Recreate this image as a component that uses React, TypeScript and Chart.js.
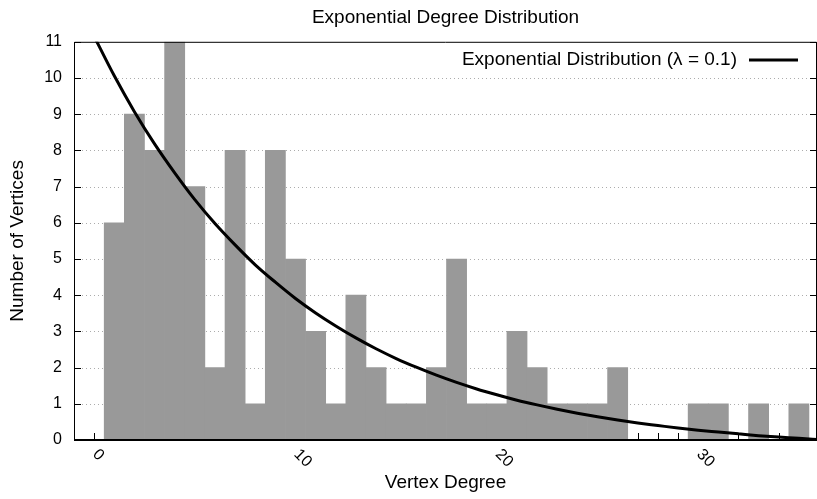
import { useEffect, useRef } from 'react';
import { Chart, registerables } from 'chart.js';

Chart.register(...registerables);

// Histogram: number of vertices per degree
const DEGREES = [
  1, 2, 3, 4, 5, 6, 7, 8, 9, 10, 11, 12, 13, 14, 15, 16, 17, 18,
  19, 20, 21, 22, 23, 24, 25, 26, 27, 28, 29, 30, 31, 32, 33, 34, 35,
];
const VERTEX_COUNTS = [
  6, 9, 8, 11, 7, 2, 8, 1, 8, 5, 3, 1, 4, 2, 1, 1, 2, 5,
  1, 1, 3, 2, 1, 1, 1, 2, 0, 0, 0, 1, 1, 0, 1, 0, 1,
];

// Fitted exponential curve, sampled at each degree
const LAMBDA = 0.1;
const CURVE_X = [
  0, 1, 2, 3, 4, 5, 6, 7, 8, 9, 10, 11, 12, 13, 14, 15, 16, 17, 18,
  19, 20, 21, 22, 23, 24, 25, 26, 27, 28, 29, 30, 31, 32, 33, 34, 35, 36,
];
const CURVE_Y = [
  11.15, 10.06, 9.07, 8.18, 7.38, 6.64, 5.98, 5.39, 4.84, 4.36, 3.91,
  3.51, 3.15, 2.82, 2.52, 2.25, 2.01, 1.79, 1.59, 1.41, 1.25, 1.1,
  0.97, 0.85, 0.74, 0.64, 0.55, 0.47, 0.4, 0.33, 0.27, 0.22, 0.17,
  0.12, 0.08, 0.05, 0.01,
];

const X_TICK_LABELS = [0, 10, 20, 30];
const Y_TICKS = [0, 1, 2, 3, 4, 5, 6, 7, 8, 9, 10, 11];

const TITLE = 'Exponential Degree Distribution';
const X_TITLE = 'Vertex Degree';
const Y_TITLE = 'Number of Vertices';
const LEGEND_LABEL = `Exponential Distribution (\u03bb = ${LAMBDA})`;

const FONT = '"Liberation Sans", Arial, Helvetica, sans-serif';
const BAR_COLOR = '#999999';
const TICK_SIZE = 16;
const TEXT_SIZE = 19;

const framePlugin = {
  id: 'frame',
  beforeDatasetsDraw(chart: any) {
    const { ctx, chartArea: a, scales } = chart;
    const x = scales.x;
    const y = scales.y;
    ctx.save();

    // dotted horizontal grid
    ctx.strokeStyle = '#acacac';
    ctx.lineWidth = 1;
    ctx.setLineDash([1, 3]);
    for (const v of Y_TICKS) {
      if (v === Y_TICKS[0] || v === Y_TICKS[Y_TICKS.length - 1]) continue;
      const py = Math.round(y.getPixelForValue(v)) + 0.5;
      ctx.beginPath();
      ctx.moveTo(a.left, py);
      ctx.lineTo(a.right, py);
      ctx.stroke();
    }
    ctx.setLineDash([]);

    // inward tick marks
    ctx.strokeStyle = '#000';
    ctx.lineWidth = 1;
    for (const v of Y_TICKS) {
      const py = Math.round(y.getPixelForValue(v)) + 0.5;
      ctx.beginPath();
      ctx.moveTo(a.left, py);
      ctx.lineTo(a.left + 7, py);
      ctx.moveTo(a.right, py);
      ctx.lineTo(a.right - 7, py);
      ctx.stroke();
    }
    for (let d = Math.ceil(x.min); d <= x.max; d++) {
      const px = Math.round(x.getPixelForValue(d)) + 0.5;
      ctx.beginPath();
      ctx.moveTo(px, a.bottom);
      ctx.lineTo(px, a.bottom - 7);
      ctx.stroke();
    }
    ctx.restore();
  },
  afterDatasetsDraw(chart: any) {
    const { ctx, chartArea: a, scales } = chart;
    const x = scales.x;
    ctx.save();

    // plot border
    ctx.strokeStyle = '#000';
    ctx.lineWidth = 1;
    ctx.beginPath();
    ctx.moveTo(a.left + 0.5, a.bottom);
    ctx.lineTo(a.left + 0.5, a.top + 0.5);
    ctx.lineTo(a.right - 0.5, a.top + 0.5);
    ctx.lineTo(a.right - 0.5, a.bottom);
    ctx.stroke();
    ctx.lineWidth = 2;
    ctx.beginPath();
    ctx.moveTo(a.left, a.bottom);
    ctx.lineTo(a.right, a.bottom);
    ctx.stroke();

    // rotated x tick labels
    ctx.fillStyle = '#000';
    ctx.font = `${TICK_SIZE}px ${FONT}`;
    ctx.textAlign = 'left';
    ctx.textBaseline = 'middle';
    for (const t of X_TICK_LABELS) {
      const px = x.getPixelForValue(t);
      ctx.save();
      ctx.translate(px + 1, a.bottom + 12);
      ctx.rotate(Math.PI / 4);
      ctx.fillText(String(t), 0, 0);
      ctx.restore();
    }

    // legend (top right)
    const ly = 60;
    ctx.font = `${TEXT_SIZE}px ${FONT}`;
    ctx.textAlign = 'right';
    ctx.fillText(LEGEND_LABEL, 737, ly);
    ctx.lineWidth = 3;
    ctx.beginPath();
    ctx.moveTo(749, ly);
    ctx.lineTo(798, ly);
    ctx.stroke();
    ctx.restore();
  },
};

export default function App() {
  const canvasRef = useRef<HTMLCanvasElement | null>(null);

  useEffect(() => {
    document.body.style.margin = '0';
    const canvas = canvasRef.current;
    if (!canvas) return;

    const bars = DEGREES.map((d, i) => ({ x: d, y: VERTEX_COUNTS[i] }));
    const curve = CURVE_X.map((d, i) => ({ x: d, y: CURVE_Y[i] }));

    const chart = new Chart(canvas, {
      type: 'bar',
      data: {
        datasets: [
          {
            type: 'line',
            label: LEGEND_LABEL,
            data: curve,
            borderColor: '#000',
            borderWidth: 3,
            pointRadius: 0,
            cubicInterpolationMode: 'monotone',
            fill: false,
            order: 0,
            clip: 0,
          } as any,
          {
            type: 'bar',
            label: 'Vertices',
            data: bars,
            backgroundColor: BAR_COLOR,
            borderWidth: 0,
            barPercentage: 1,
            categoryPercentage: 1,
            order: 1,
          } as any,
        ],
      },
      options: {
        responsive: false,
        animation: false,
        devicePixelRatio: 1,
        layout: { padding: 0 },
        plugins: {
          legend: { display: false },
          tooltip: { enabled: false },
          title: {
            display: true,
            text: TITLE,
            color: '#000',
            fullSize: false,
            font: { family: FONT, size: TEXT_SIZE, weight: 'normal', lineHeight: 1.2 },
            padding: { top: 6, bottom: 13 },
          },
        },
        scales: {
          x: {
            type: 'linear',
            min: -1,
            max: 35.9,
            offset: false,
            grid: { display: false, drawTicks: false },
            border: { display: false },
            ticks: { display: false },
            title: {
              display: true,
              text: X_TITLE,
              color: '#000',
              font: { family: FONT, size: TEXT_SIZE, lineHeight: 1.2 },
              padding: { top: 0, bottom: 5 },
            },
            afterFit(scale: any) {
              scale.height = 59;
            },
          },
          y: {
            type: 'linear',
            min: 0,
            max: 11,
            grid: { display: false, drawTicks: false },
            border: { display: false },
            ticks: {
              stepSize: 1,
              color: '#000',
              padding: 12,
              font: { family: FONT, size: TICK_SIZE },
            },
            title: {
              display: true,
              text: Y_TITLE,
              color: '#000',
              font: { family: FONT, size: TEXT_SIZE, lineHeight: 1.2 },
              padding: { top: 6, bottom: 0 },
            },
            afterFit(scale: any) {
              scale.width = 74;
            },
          },
        },
      },
      plugins: [framePlugin],
    });

    return () => chart.destroy();
  }, []);

  return (
    <div style={{ width: 817, height: 499, overflow: 'hidden' }}>
      <canvas
        ref={canvasRef}
        width={817}
        height={499}
        style={{ display: 'block', width: 817, height: 499 }}
      />
    </div>
  );
}
